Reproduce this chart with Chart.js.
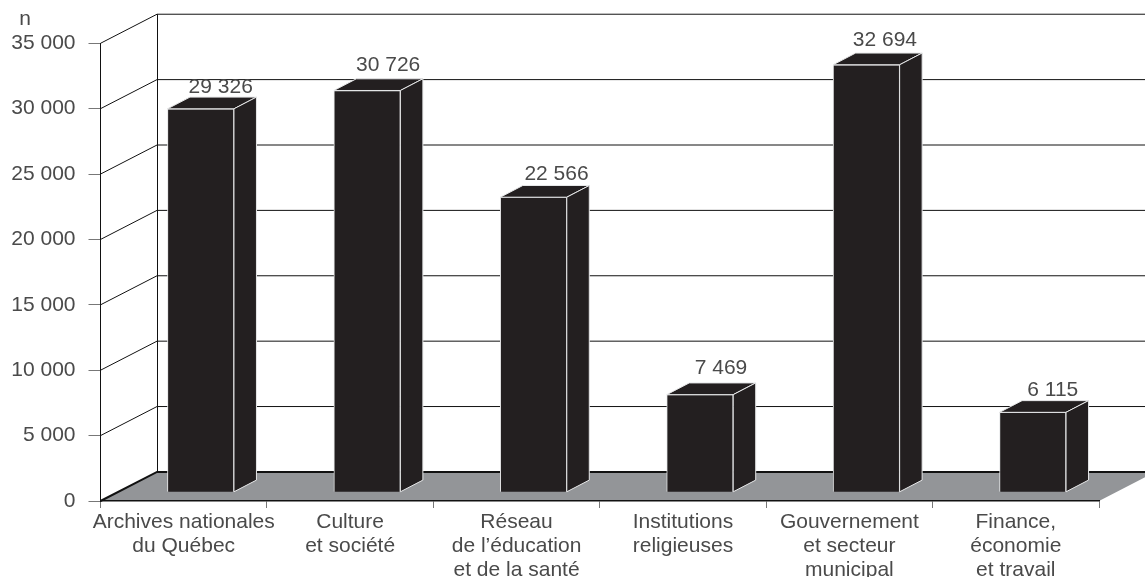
<!DOCTYPE html>
<html><head><meta charset="utf-8">
<style>html,body{margin:0;padding:0;background:#fff}canvas{display:block}</style>
<script src="https://cdn.jsdelivr.net/npm/chart.js@4"></script></head>
<body><canvas id="c" width="1145" height="577"></canvas>
<script>
const categories = [
  ["Archives nationales","du Québec"],
  ["Culture","et société"],
  ["Réseau","de l’éducation","et de la santé"],
  ["Institutions","religieuses"],
  ["Gouvernement","et secteur","municipal"],
  ["Finance,","économie","et travail"]
];
const values = [29326, 30726, 22566, 7469, 32694, 6115];
const valueLabels = ["29 326","30 726","22 566","7 469","32 694","6 115"];
const yTickStep = 5000;
const yMax = 35000;
const yUnit = "n";

const FONT = '"Liberation Sans", Arial, sans-serif';
const TEXT = '#4a4a4a';
const WALL = {dx:56.5, dy:-29.07};     // depth of the whole box
const BAR  = {dx:22.5, dy:-11.7, sx:17, sy:-8.7, w:66.5};  // depth and inset of the bars
const labelNudge = [[0,0],[1,-3],[3,-1],[1,-4],[-1.5,-2.5],[0,0]];  // hand placement of the value labels
const fmt = v => String(v).replace(/\B(?=(\d{3})+$)/g,' ');

const box3d = {
  id:'box3d',
  beforeDraw(chart){
    const {ctx,scales:{x,y}} = chart;
    const l=x.left, r=x.right, b=y.getPixelForValue(0), W=chart.width;
    ctx.save();
    ctx.fillStyle='#939598';
    ctx.beginPath();
    ctx.moveTo(l,b);ctx.lineTo(l+WALL.dx,b+WALL.dy);ctx.lineTo(r+WALL.dx,b+WALL.dy);ctx.lineTo(r,b);
    ctx.closePath();ctx.fill();
    ctx.strokeStyle='#111';
    y.ticks.forEach(t=>{
      const p=y.getPixelForValue(t.value);
      const back=p+WALL.dy;
      ctx.lineWidth = t.value===0?2:1;
      ctx.beginPath();
      ctx.moveTo(l,p);ctx.lineTo(l+WALL.dx,back);ctx.lineTo(W,back);
      ctx.stroke();
    });
    ctx.lineWidth=1;
    ctx.beginPath();
    ctx.moveTo(l+WALL.dx+0.5,y.top+WALL.dy);ctx.lineTo(l+WALL.dx+0.5,b+WALL.dy);
    ctx.stroke();
    ctx.fillStyle=TEXT;ctx.font='21px '+FONT;ctx.textAlign='center';ctx.textBaseline='middle';
    ctx.fillText(yUnit,25,19);
    ctx.restore();
  },
  beforeDatasetDraw(chart){
    chart.ctx.save();
    chart.ctx.translate(BAR.sx,BAR.sy);
  },
  afterDatasetDraw(chart,args){
    const ctx=chart.ctx;
    ctx.fillStyle='#231f20';ctx.strokeStyle='#e6e7e8';ctx.lineWidth=1;ctx.lineJoin='miter';
    args.meta.data.forEach(el=>{
      const l=el.x-BAR.w/2, r=el.x+BAR.w/2, t=el.y, b=el.base;
      ctx.beginPath();
      ctx.moveTo(l,t);ctx.lineTo(l+BAR.dx,t+BAR.dy);ctx.lineTo(r+BAR.dx,t+BAR.dy);ctx.lineTo(r,t);ctx.closePath();
      ctx.fill();ctx.stroke();
      ctx.beginPath();
      ctx.moveTo(r,t);ctx.lineTo(r+BAR.dx,t+BAR.dy);ctx.lineTo(r+BAR.dx,b+BAR.dy);ctx.lineTo(r,b);ctx.closePath();
      ctx.fill();ctx.stroke();
    });
    ctx.restore();
    ctx.save();
    ctx.fillStyle=TEXT;ctx.font='21px '+FONT;ctx.textAlign='center';ctx.textBaseline='middle';
    args.meta.data.forEach((el,i)=>{
      ctx.fillText(valueLabels[i],el.x+BAR.sx+20+labelNudge[i][0],el.y+BAR.sy-22+labelNudge[i][1]);
    });
    ctx.restore();
  }
};

new Chart(document.getElementById('c'),{
  type:'bar',
  data:{labels:categories,datasets:[{
    data:values,
    backgroundColor:'#231f20',
    borderColor:'#e6e7e8',
    borderWidth:1,
    barThickness:BAR.w,
    clip:false
  }]},
  options:{
    responsive:false,animation:false,
    devicePixelRatio:1,
    layout:{padding:{left:0,top:43.3,right:46,bottom:0}},
    plugins:{legend:{display:false},title:{display:false},tooltip:{enabled:false}},
    scales:{
      x:{
        afterFit(s){s.height=76;},
        offset:true,
        grid:{offset:true,drawOnChartArea:false,drawTicks:true,tickLength:7,tickColor:'#777',tickWidth:1},
        border:{color:'#111',width:1.5},
        ticks:{color:TEXT,font:{family:FONT,size:21,lineHeight:1.14},maxRotation:0,minRotation:0,autoSkip:false,padding:2}
      },
      y:{
        min:0,max:yMax,
        afterFit(s){s.width=100.5;},
        grid:{drawOnChartArea:false,drawTicks:true,tickLength:12,tickColor:'#777',tickWidth:1},
        border:{color:'#111',width:1},
        ticks:{stepSize:yTickStep,color:TEXT,font:{family:FONT,size:21},padding:13,callback:v=>fmt(v)}
      }
    }
  },
  plugins:[box3d]
});
</script></body></html>
